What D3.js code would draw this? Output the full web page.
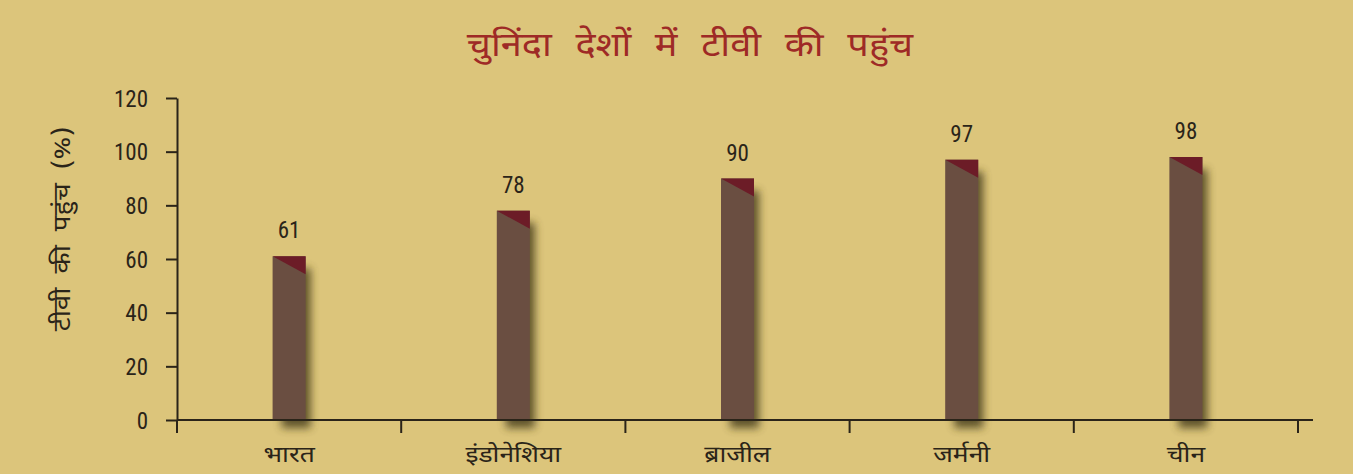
<!DOCTYPE html>
<html>
<head>
<meta charset="utf-8">
<script src="https://cdn.jsdelivr.net/npm/d3@7"></script>
<style>
  html, body { margin: 0; padding: 0; background: #dcc57b; }
  svg { display: block; }
  .num { font-family: "Liberation Sans Narrow", "Roboto Condensed", "Liberation Sans", sans-serif; }
  .deva { font-family: "Noto Sans Devanagari", "Noto Sans", "Lohit Devanagari", sans-serif; }
</style>
</head>
<body>
<svg id="chart" width="1353" height="474"></svg>
<script>
// TV penetration in selected countries (%)
const categories = ["भारत", "इंडोनेशिया", "ब्राजील", "जर्मनी", "चीन"];
const values = [61, 78, 90, 97, 98];
const yTicks = [0, 20, 40, 60, 80, 100, 120];
const title = "चुनिंदा देशों में टीवी की पहुंच";
const yTitle = "टीवी की पहुंच (%)";

const W = 1353, H = 474;
const svg = d3.select("#chart");

svg.append("rect").attr("width", W).attr("height", H).attr("fill", "#dcc57b");

const defs = svg.append("defs");
const blur = defs.append("filter").attr("id", "soft")
  .attr("x", "-100%").attr("y", "-20%").attr("width", "300%").attr("height", "140%");
blur.append("feGaussianBlur").attr("stdDeviation", 4);

const x = d3.scaleBand().domain(categories).range([177, 1298]);
const y = d3.scaleLinear().domain([0, 120]).range([420, 98]);
const barW = 33;
const ink = "#2a2419";

// title (stretched horizontally for a wide Devanagari face)
svg.append("text").attr("class", "deva")
  .attr("transform", "translate(690,56) scale(1.15,1)")
  .attr("text-anchor", "middle")
  .attr("font-size", 33).style("word-spacing", "12px")
  .attr("fill", "#9e2a26").text(title);

// y axis title
svg.append("text").attr("class", "deva")
  .attr("transform", "translate(70,229) rotate(-90) scale(1.15,1)")
  .attr("text-anchor", "middle").attr("font-size", 24)
  .style("word-spacing", "6px")
  .attr("fill", ink).text(yTitle);

// bars with drop shadow and folded top corner
const g = svg.append("g");
const bars = g.selectAll("g.bar").data(categories).join("g").attr("class", "bar");

bars.append("rect")
  .attr("x", d => x(d) + x.bandwidth() / 2 - barW / 2 + 9)
  .attr("y", (d, i) => y(values[i]) + 12)
  .attr("width", barW - 4)
  .attr("height", (d, i) => 420 - y(values[i]) - 4)
  .attr("fill", "#4a401a").attr("opacity", 0.85)
  .attr("filter", "url(#soft)");

bars.append("rect")
  .attr("x", d => x(d) + x.bandwidth() / 2 - barW / 2)
  .attr("y", (d, i) => y(values[i]))
  .attr("width", barW)
  .attr("height", (d, i) => 420 - y(values[i]))
  .attr("fill", "#6a4e41");

bars.append("path")
  .attr("d", (d, i) => {
    const x0 = x(d) + x.bandwidth() / 2 - barW / 2, y0 = y(values[i]);
    return `M${x0},${y0}L${x0 + barW},${y0}L${x0 + barW},${y0 + 18}Z`;
  })
  .attr("fill", "#6c1c27");

bars.append("text").attr("class", "num")
  .attr("x", d => x(d) + x.bandwidth() / 2)
  .attr("y", (d, i) => y(values[i]) - 18)
  .attr("text-anchor", "middle").attr("font-size", 23).attr("fill", ink)
  .text((d, i) => values[i]);

// y axis
const yAxis = svg.append("g").attr("transform", "translate(177,0)")
  .call(d3.axisLeft(y).tickValues(yTicks).tickSize(11).tickPadding(18).tickSizeOuter(0));
yAxis.select(".domain").attr("stroke", ink).attr("stroke-width", 2);
yAxis.selectAll(".tick line").attr("stroke", ink).attr("stroke-width", 2);
yAxis.selectAll(".tick text").attr("class", "num").attr("font-size", 23)
  .attr("fill", ink).attr("dy", "0.36em");

// x axis
const xAxis = svg.append("g").attr("transform", "translate(0,420)")
  .call(d3.axisBottom(x).tickSize(0).tickPadding(26));
xAxis.select(".domain").remove();
xAxis.append("line").attr("x1", 177).attr("x2", 1313).attr("stroke", ink).attr("stroke-width", 2);
xAxis.selectAll(".sep").data(d3.range(categories.length + 1)).join("line").attr("class", "sep")
  .attr("x1", i => 177 + i * x.step()).attr("x2", i => 177 + i * x.step())
  .attr("y1", 0).attr("y2", 13).attr("stroke", ink).attr("stroke-width", 2);
xAxis.selectAll(".tick text").attr("class", "deva").attr("font-size", 23)
  .attr("transform", "scale(1.15,1)").attr("fill", ink);
</script>
</body>
</html>
